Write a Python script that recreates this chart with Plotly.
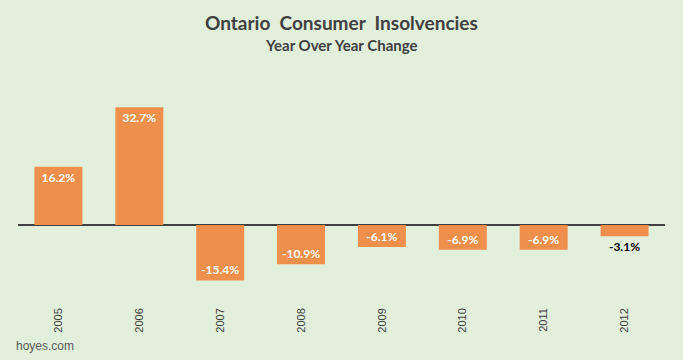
import plotly.graph_objects as go

years = ["2005", "2006", "2007", "2008", "2009", "2010", "2011", "2012"]
changes = [16.2, 32.7, -15.4, -10.9, -6.1, -6.9, -6.9, -3.1]
labels = ["16.2%", "32.7%", "-15.4%", "-10.9%", "-6.1%", "-6.9%", "-6.9%", "-3.1%"]
label_pos = ["inside"] * 7 + ["outside"]

BG = "#E2EFDA"
BAR = "#EF8F4C"
DARK = "#404040"

fig = go.Figure()
fig.add_trace(go.Bar(
    x=years, y=changes, text=labels, texttemplate="%{text}",
    textposition=label_pos, insidetextanchor="end", constraintext="none",
    insidetextfont=dict(color="white", size=12, family="Lato", weight="bold"),
    outsidetextfont=dict(color="black", size=12, family="Lato", weight="bold"),
    marker=dict(color=BAR, line=dict(width=0)),
    hoverinfo="skip", cliponaxis=False,
))

fig.update_layout(
    width=683, height=360,
    paper_bgcolor=BG, plot_bgcolor=BG,
    margin=dict(l=18, r=18, t=70, b=62, autoexpand=False),
    bargap=0.407,
    showlegend=False,
    xaxis=dict(type="category", range=[-0.5, 7.5], tickangle=-90,
               showgrid=False, showline=False, ticks="", automargin=False,
               ticklabelstandoff=7,
               tickfont=dict(family="Liberation Sans", size=11, color=DARK)),
    yaxis=dict(range=[-20.28, 43.06], showgrid=False, showticklabels=False,
               zeroline=True, zerolinecolor=DARK, zerolinewidth=2, ticks="",
               automargin=False),
    annotations=[
        dict(text="Ontario  Consumer  Insolvencies", xref="paper", yref="paper",
             x=0.5, y=1.0 + 48 / 228, yanchor="middle", showarrow=False,
             font=dict(family="Lato", size=19, color=DARK, weight="bold")),
        dict(text="Year Over Year Change", xref="paper", yref="paper",
             x=0.5, y=1.0 + 25 / 228, yanchor="middle", showarrow=False,
             font=dict(family="Lato", size=15, color=DARK, weight="bold")),
        dict(text="hoyes.com", xref="paper", yref="paper",
             x=-0.006, xanchor="left", y=-48 / 228, yanchor="middle",
             showarrow=False,
             font=dict(family="Liberation Sans", size=12, color="#595959")),
    ],
)

fig.write_html("out.html", config={"displayModeBar": False},
               post_script="document.body.style.margin='0';")
